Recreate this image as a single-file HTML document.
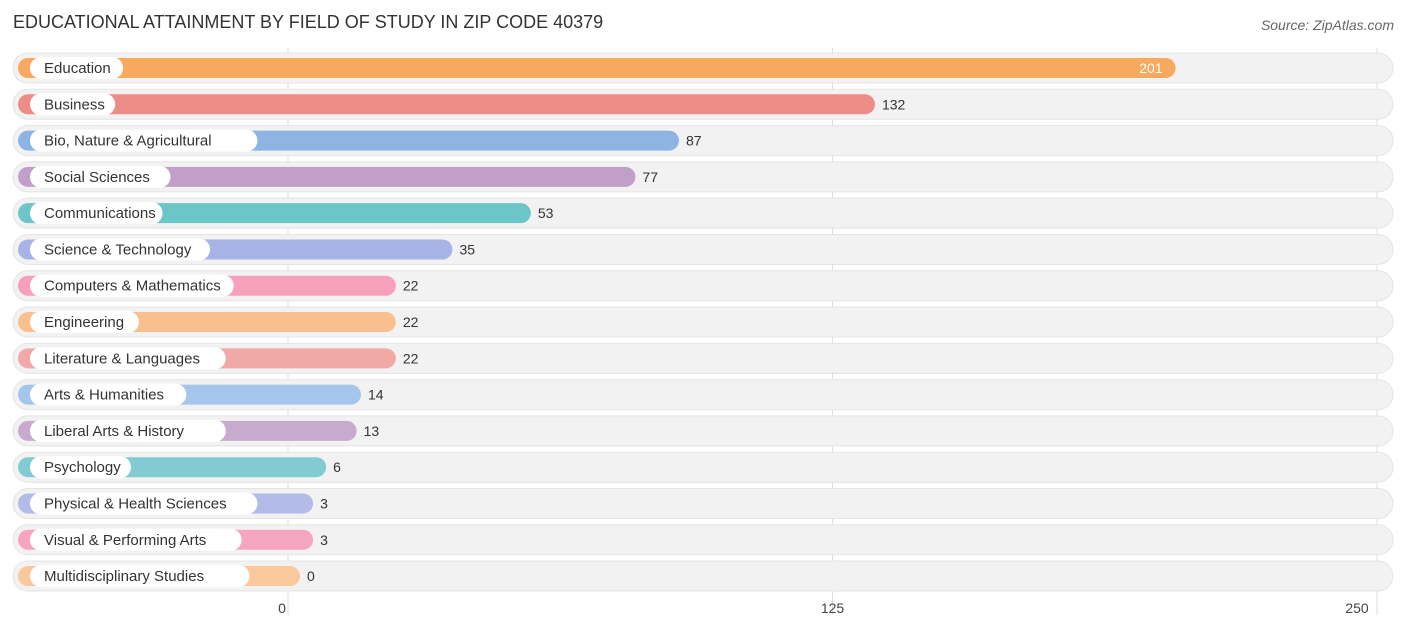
<!DOCTYPE html>
<html><head><meta charset="utf-8"><style>
body{margin:0;background:#fff;font-family:"Liberation Sans",sans-serif;}
</style></head><body>
<svg id="c" width="1406" height="631" xmlns="http://www.w3.org/2000/svg">
<text x="13" y="28" font-size="18" fill="#333">EDUCATIONAL ATTAINMENT BY FIELD OF STUDY IN ZIP CODE 40379</text>
<text x="1394" y="30" font-size="14" fill="#666" font-style="italic" text-anchor="end">Source: ZipAtlas.com</text>
<g id="grid"></g><g id="rows"></g><g id="ticks"></g>
</svg>
<script>
const categories=["Education","Business","Bio, Nature & Agricultural","Social Sciences","Communications","Science & Technology","Computers & Mathematics","Engineering","Literature & Languages","Arts & Humanities","Liberal Arts & History","Psychology","Physical & Health Sciences","Visual & Performing Arts","Multidisciplinary Studies"];
const values=[201,132,87,77,53,35,22,22,22,14,13,6,3,3,0];
const colors=["#F9A95E","#EE8C87","#8DB4E2","#C19FC9","#6CC5C9","#A9B4E6","#F6A0BC","#F9C08F","#F0A9A6","#A4C6EC","#C9AACF","#83CBD2","#B3BBE8","#F6A5C0","#F9C89B"];
const tickValues=[0,125,250];
const NS="http://www.w3.org/2000/svg";
const x=v=>288+v*(1377-288)/250;
const y=i=>68+i*36.29;
function mk(t,a,p){const e=document.createElementNS(NS,t);for(const k in a)e.setAttribute(k,a[k]);p.appendChild(e);return e;}
const grid=document.getElementById('grid'),rows=document.getElementById('rows'),ticks=document.getElementById('ticks');
tickValues.forEach(t=>{
 const l=mk('line',{x1:x(t),x2:x(t),y1:48,y2:615,stroke:'#ddd','stroke-width':1},grid);
 
 
 const tx=mk('text',{x:x(t)+(t==0?-6:t==250?-20:0),y:613,'font-size':14,fill:'#444','text-anchor':'middle'},ticks);
 tx.textContent=t;
 
 
});
categories.forEach((c,i)=>{
 const g=mk('g',{},rows);
 
 
 const cy=y(i);
 const bg=mk('rect',{x:13,y:cy-15,width:1380,height:30,rx:15,fill:'#f2f2f2',stroke:'#e4e4e4'},g);
 
 
 const end=x(values[i])+12;
 const b=mk('rect',{x:18,y:cy-10,width:end-18,height:20,rx:10,fill:colors[i]},g);
 
 
 const tw=c.length*7.9+22;
 const lp=mk('rect',{x:30,y:cy-11,width:tw,height:22,rx:11,fill:'#fff'},g);
 
 
 const lt=mk('text',{x:44,y:cy+5,'font-size':15,fill:'#333'},g);
 lt.textContent=c;
 
 
 const inside=values[i]>180;
 const vt=mk('text',{x:inside?end-13:end+7,y:cy+5,'font-size':14,fill:inside?'#fff':'#333','text-anchor':inside?'end':'start'},g);
 vt.textContent=values[i];
 
 
});
</script>
</body></html>
